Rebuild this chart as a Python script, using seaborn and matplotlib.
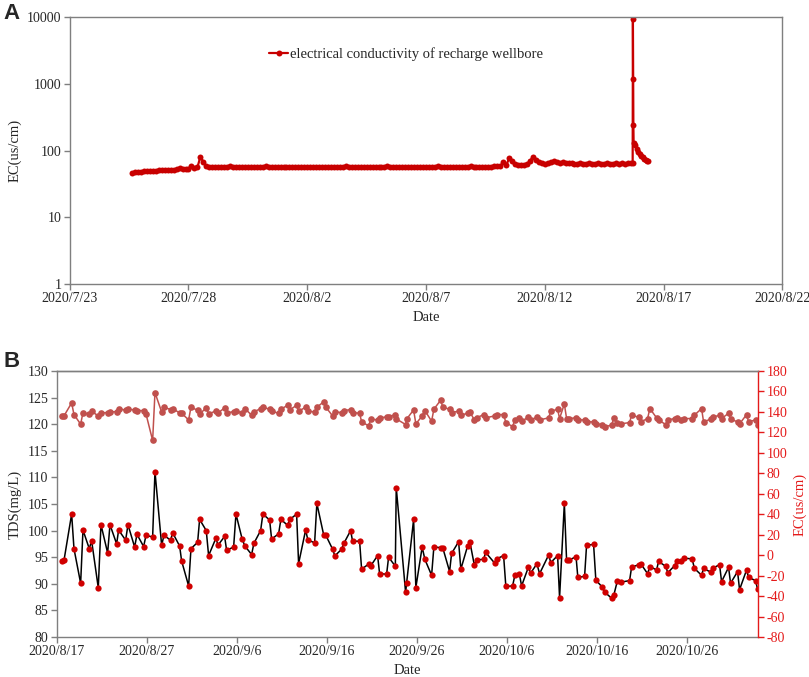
import matplotlib
matplotlib.use("Agg")
import matplotlib.pyplot as plt
import matplotlib.ticker as mticker
import matplotlib.dates as mdates
import pandas as pd
import seaborn as sns

# ---------------- Panel A data: EC of recharge wellbore ----------------
a_start = "2020-07-25 15:00"      # first reading, then every 3 hours
a_ec_grid = [
    46.5, 47.5, 48,
    48.5, 49, 49, 49.5, 50, 50, 50.5, 50.5,
    51, 51, 51.5, 52, 53, 54.5, 52.5, 53,
    54, 58, 55, 56, 81, 68, 58, 57.5,
    57.5, 57, 57.5, 57.5, 57, 57.5, 58, 57.5,
    57.5, 57.5, 57, 57.5, 57.5, 57.5, 57, 57.5,
    57.5, 57.5, 58, 57.5, 57, 57.5, 57.5, 57.5,
    57, 57.5, 57.5, 57.5, 57.5, 57, 57.5, 57.5,
    57.5, 57.5, 57.5, 57, 57.5, 57.5, 57.5, 57,
    57.5, 57.5, 57, 57.5, 57.5, 58, 57.5, 57.5,
    57.5, 57, 57.5, 57.5, 57.5, 57.5, 57, 57.5,
    57.5, 57.5, 57.5, 58, 57.5, 57.5, 57.5, 57,
    57.5, 57.5, 57, 57.5, 57.5, 57.5, 57.5, 57.5,
    57, 57.5, 57.5, 57.5, 58, 57.5, 57.5, 57.5,
    57.5, 57.5, 57.5, 57, 57.5, 57.5, 57.5, 58,
    57.5, 57.5, 57.5, 57.5, 57, 57.5, 57.5, 58,
    58, 58, 68, 60, 77, 70, 63, 62,
    61, 62, 63, 70, 81, 72, 68, 66,
    64, 65, 68, 70, 68, 66, 67, 66,
    65, 65, 64, 64, 65, 64, 64, 65,
    64, 64, 65, 64, 64, 65, 64, 64,
    65, 64, 65, 64, 65, 66,
]
# spike readings, days since 2020/7/23
a_spike_days = [23.70, 23.71, 23.72, 23.73, 23.74, 23.80, 23.875, 23.93,
                24.0, 24.06, 24.125, 24.19, 24.25, 24.31, 24.35]
a_spike_ec = [66, 9600, 1170, 240, 132, 120, 105, 97,
              88, 83, 79, 75, 73, 71, 70]

# ---------------- Panel B data: TDS and EC ----------------
# days since 2020/8/17
b_days = [
    0.61, 0.80, 1.65, 1.91, 2.65, 2.91, 3.61, 3.87, 4.61, 4.91, 5.65, 5.91, 6.65, 6.87,
    7.65, 7.91, 8.65, 8.91, 9.65, 9.91, 10.65, 10.91, 11.65, 11.91, 12.65, 12.87, 13.65,
    13.87, 14.65, 14.91, 15.65, 15.87, 16.61, 16.87, 17.69, 17.91, 18.65, 18.87, 19.65, 19.91,
    20.6, 20.9, 21.65, 21.9, 22.65, 22.9, 23.65, 23.87, 24.65, 24.9, 25.65, 25.9, 26.65,
    26.87, 27.65, 27.9, 28.65, 28.9, 29.65, 29.9, 30.65, 30.9, 31.65, 31.9, 32.65, 32.87,
    33.65, 33.87, 34.65, 34.9, 35.65, 35.87, 36.65, 36.87, 37.62, 37.72, 38.76, 38.87,
    39.65, 39.9,
    40.6, 40.9, 41.65, 41.9, 42.65, 42.9, 43.65, 43.87, 44.65, 44.9, 45.65, 45.9, 46.4,
    46.65, 47.43, 47.65, 48.65, 48.9, 49.65, 49.9, 50.65, 50.9, 51.4, 51.65, 52.4, 52.65,
    53.35, 53.65, 54.65, 54.9, 55.65, 55.87, 56.4, 56.65, 56.87, 57.7, 57.9, 58.65, 58.87,
    59.65, 59.9,
    60.6, 60.9, 61.65, 61.9, 62.3, 62.65, 63.65, 63.87, 64.65, 64.9, 65.65, 65.9, 66.65,
    66.87, 67.65, 67.9, 68.65, 68.9, 69.4, 69.65, 70.6, 70.85, 71.65, 71.87, 72.65, 72.87,
    73.65, 73.87, 74.65, 74.87, 75.65, 75.87, 76.65, 76.87, 77.65, 77.87,
]
b_tds = [
    94.2, 94.4, 103.1, 96.6, 90.1, 100.1, 96.6, 98.1, 89.25, 101.1, 95.8, 101.1, 97.5, 100.1,
    98.2, 101.1, 96.9, 99.3, 97.0, 99.1, 98.8, 111.1, 97.25, 99.1, 98.2, 99.6, 97.1,
    94.3, 89.6, 96.6, 97.8, 102.1, 100.0, 95.3, 98.6, 97.25, 98.9, 96.3, 96.9, 103.1,
    98.4, 97.1, 95.5, 97.6, 100.0, 103.1, 102.0, 98.4, 99.4, 102.1, 101.0, 102.1, 103.1,
    93.8, 100.1, 98.25, 97.7, 105.1, 99.25, 99.1, 96.5, 95.25, 96.5, 97.6, 100.0, 98.0,
    98.0, 92.75, 93.7, 93.4, 95.3, 91.9, 91.8, 95.0, 93.3, 108.1, 88.4, 90.1,
    102.1, 89.3,
    96.9, 94.6, 91.6, 96.9, 96.8, 96.7, 92.3, 95.7, 97.9, 92.75, 97.1, 97.9, 93.5,
    94.5, 94.6, 95.9, 93.9, 94.7, 95.3, 89.5, 89.6, 91.6, 91.9, 89.6, 93.1, 92.0,
    93.75, 91.9, 95.4, 94.0, 95.3, 87.4, 105.1, 94.4, 94.4, 95.1, 91.2, 91.4, 97.25,
    97.4, 90.7,
    89.4, 88.4, 87.3, 87.9, 90.6, 90.3, 90.6, 93.1, 93.6, 93.75, 91.9, 93.25, 92.6,
    94.2, 93.3, 92.1, 93.4, 94.3, 94.2, 94.8, 94.7, 92.9, 91.6, 92.9, 92.2, 92.9,
    93.6, 90.4, 93.1, 90.1, 92.3, 88.9, 92.6, 91.2, 90.6, 89.0,
]
b_ec = [
    136.1, 136.1, 148.8, 137.4, 128.0, 139.4, 137.7, 141.0, 135.8, 139.0, 139.4, 140.0, 140.3, 143.3,
    141.6, 142.6, 142.0, 141.3, 141.3, 138.1, 112.1, 158.9, 140.0, 144.6, 142.3, 143.3, 139.0,
    138.7, 132.2, 144.6, 141.6, 137.7, 144.2, 138.1, 141.0, 139.0, 143.9, 139.0, 140.3, 141.3,
    138.7, 143.3, 136.8, 140.0, 143.3, 144.6, 142.6, 140.7, 138.7, 142.6, 146.5, 142.0, 146.5,
    140.7, 144.6, 140.7, 140.0, 144.6, 149.8, 144.6, 136.1, 140.0, 139.4, 141.3, 142.3, 139.4,
    138.7, 130.3, 126.4, 132.9, 132.2, 134.2, 135.1, 135.1, 137.4, 133.2, 127.7, 132.9,
    142.0, 128.3,
    136.1, 141.3, 130.9, 142.6, 151.4, 144.6, 142.6, 139.4, 140.7, 136.8, 138.7, 140.0, 132.2,
    134.2, 137.4, 134.2, 136.1, 137.4, 137.4, 129.6, 125.7, 132.2, 134.2, 130.9, 134.8, 132.2,
    134.8, 132.2, 134.2, 140.7, 142.6, 133.5, 147.8, 133.5, 133.5, 134.2, 132.2, 132.2, 130.3,
    130.3, 128.3,
    127.7, 125.7, 127.0, 134.2, 129.6, 128.3, 129.6, 136.8, 134.8, 130.3, 133.5, 143.3, 134.2,
    132.2, 127.7, 132.2, 133.5, 134.2, 132.2, 133.5, 133.5, 136.8, 143.3, 130.3, 132.9, 134.8,
    136.8, 133.5, 138.7, 132.9, 130.3, 128.3, 137.4, 130.3, 132.2, 127.0,
]

# ---------------- styling ----------------
sns.set_theme(style="ticks")
plt.rcParams["font.family"] = ["Liberation Serif", "DejaVu Serif"]
plt.rcParams["axes.unicode_minus"] = False

RED_A = "#C80000"
TDS_LINE = "black"
TDS_MARK = "#D00000"
EC_B = "#C0504D"
AX_RED = "#E41A1A"
SPINE = "#7F7F7F"

fig = plt.figure(figsize=(8.09, 6.77), dpi=100)

def date_fmt(x, pos=None):
    d = mdates.num2date(x)
    return f"{d.year}/{d.month}/{d.day}"

# ---------------- Panel A ----------------
axA = fig.add_axes([0.0862, 0.5805, 0.8808, 0.3939])
t0A = pd.Timestamp("2020-07-23")
grid_t = pd.date_range(a_start, periods=len(a_ec_grid), freq="3h")
spike_t = [t0A + pd.Timedelta(days=d) for d in a_spike_days]
dfA = pd.DataFrame({"time": list(grid_t) + spike_t,
                    "EC": list(a_ec_grid) + list(a_spike_ec)})
dfA["series"] = "electrical conductivity of recharge wellbore"
sns.lineplot(data=dfA, x="time", y="EC", hue="series", palette=[RED_A],
             marker="o", markersize=4.3, markeredgewidth=0, linewidth=1.6,
             ax=axA, legend=True)
axA.set_yscale("log")
axA.set_ylim(1, 10000)
axA.set_xlim(pd.Timestamp("2020-07-23"), pd.Timestamp("2020-08-22"))
axA.set_xticks([pd.Timestamp("2020-07-23") + pd.Timedelta(days=5 * i) for i in range(7)])
axA.xaxis.set_major_formatter(mticker.FuncFormatter(date_fmt))
axA.yaxis.set_major_locator(mticker.FixedLocator([1, 10, 100, 1000, 10000]))
axA.yaxis.set_major_formatter(mticker.FuncFormatter(lambda v, p: f"{int(round(v))}"))
axA.yaxis.set_minor_locator(mticker.NullLocator())
axA.set_xlabel("Date", fontsize=10.5)
axA.set_ylabel("EC(us/cm)", fontsize=10.5)
for s in axA.spines.values():
    s.set_color(SPINE)
    s.set_linewidth(1.0)
axA.tick_params(axis="both", labelsize=10, direction="out", length=4,
                color=SPINE, width=1.0, pad=2)
leg = axA.legend(loc="center left", bbox_to_anchor=(0.27, 0.862), frameon=False,
                 fontsize=10.5, handlelength=1.3, handletextpad=0.1, borderpad=0)
fig.text(0.004, 0.995, "A", fontsize=16, fontweight="bold", va="top", ha="left",
         family=["Liberation Sans", "DejaVu Sans"])

# ---------------- Panel B ----------------
axB = fig.add_axes([0.0702, 0.0591, 0.8671, 0.3929])
t0B = pd.Timestamp("2020-08-17")
tB = [t0B + pd.Timedelta(days=d) for d in b_days]
dfB = pd.DataFrame({"time": tB, "TDS": b_tds, "EC": b_ec})
sns.lineplot(data=dfB, x="time", y="TDS", color=TDS_LINE, linewidth=1.1,
             marker="o", markersize=4.5, markerfacecolor=TDS_MARK,
             markeredgecolor=TDS_MARK, markeredgewidth=0, ax=axB)
axB.set_ylim(80, 130)
axB.set_yticks(range(80, 131, 5))
axB.set_xlim(t0B, t0B + pd.Timedelta(days=77.95))
axB.set_xticks([t0B + pd.Timedelta(days=10 * i) for i in range(8)])
axB.xaxis.set_major_formatter(mticker.FuncFormatter(date_fmt))
axB.set_xlabel("Date", fontsize=10.5)
axB.set_ylabel("TDS(mg/L)", fontsize=10.5)
axB.tick_params(axis="both", labelsize=10, direction="out", length=4,
                color=SPINE, width=1.0, pad=2)

axB2 = axB.twinx()
sns.lineplot(data=dfB, x="time", y="EC", color=EC_B, linewidth=1.1,
             marker="o", markersize=4.8, markerfacecolor=EC_B,
             markeredgecolor=EC_B, markeredgewidth=0, ax=axB2)
axB2.set_ylim(-80, 180)
axB2.set_yticks(range(-80, 181, 20))
axB2.set_ylabel("EC(us/cm)", fontsize=10.5, color=AX_RED)
axB2.tick_params(axis="y", labelsize=10, direction="out", length=4,
                 color=AX_RED, labelcolor=AX_RED, width=1.0, pad=2)
for ax in (axB, axB2):
    for name, s in ax.spines.items():
        s.set_color(SPINE)
        s.set_linewidth(1.0)
axB2.spines["right"].set_color(AX_RED)
axB.spines["right"].set_visible(False)
axB2.spines["left"].set_visible(False)
axB2.spines["bottom"].set_visible(False)
axB.set_xlim(t0B, t0B + pd.Timedelta(days=77.95))
fig.text(0.004, 0.482, "B", fontsize=16, fontweight="bold", va="top", ha="left",
         family=["Liberation Sans", "DejaVu Sans"])

fig.savefig("out.png", dpi=100)
